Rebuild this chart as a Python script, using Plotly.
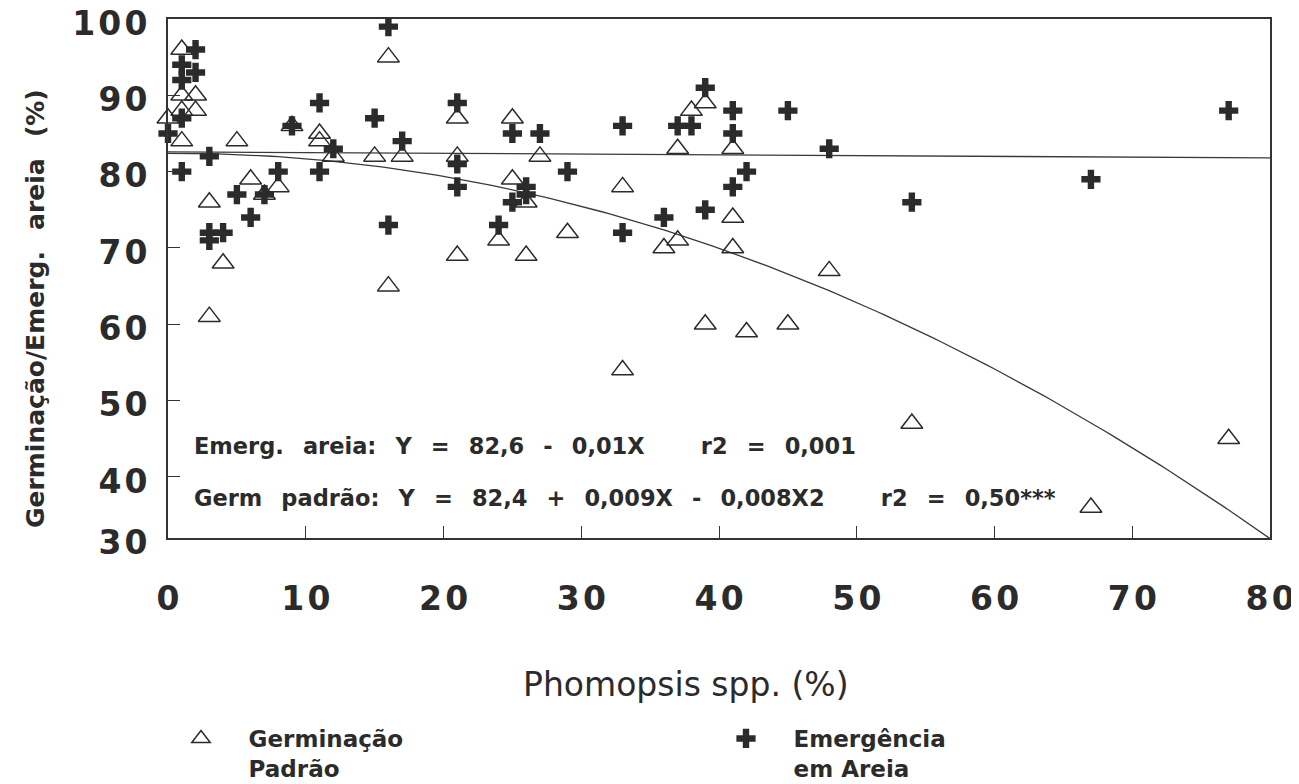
import numpy as np
import plotly.graph_objects as go

# ---------------- data ----------------
germ_x = [0, 1, 1, 1, 1, 2, 2, 3, 3, 4, 5, 6, 7, 8, 9, 11, 11, 12, 15, 16, 16, 17,
          21, 21, 21, 24, 25, 25, 26, 26, 27, 29, 33, 33, 36, 37, 37, 38, 39, 39,
          41, 41, 41, 42, 45, 48, 54, 67, 77]
germ_y = [87, 96, 90, 88, 84, 90, 88, 76, 61, 68, 84, 79, 77, 78, 86, 85, 84, 82, 82, 95, 65, 82,
          87, 82, 69, 71, 87, 79, 76, 69, 82, 72, 78, 54, 70, 71, 83, 88, 89, 60,
          83, 74, 70, 59, 60, 67, 47, 36, 45]

emerg_x = [0, 1, 1, 1, 1, 2, 2, 3, 3, 3, 4, 5, 6, 7, 8, 9, 11, 11, 12, 15, 16, 16, 17,
           21, 21, 21, 24, 25, 25, 26, 26, 27, 29, 33, 33, 36, 37, 38, 39, 39,
           41, 41, 41, 42, 45, 48, 54, 67, 77]
emerg_y = [85, 94, 92, 87, 80, 96, 93, 82, 72, 71, 72, 77, 74, 77, 80, 86, 89, 80, 83, 87, 99, 73, 84,
           89, 81, 78, 73, 85, 76, 78, 77, 85, 80, 86, 72, 74, 86, 86, 91, 75,
           88, 85, 78, 80, 88, 83, 76, 79, 88]

# regression equations printed on the chart
emerg_a, emerg_b = 82.6, -0.01
germ_a, germ_b, germ_c = 82.4, 0.009, -0.008

x_ticks = [0, 10, 20, 30, 40, 50, 60, 70, 80]
x_tick_text = ["0", "10", "20", "30", "40", "50", "60", "70", "80"]
y_ticks = [32, 40, 50, 60, 70, 80, 90, 100]
y_tick_text = ["30", "40", "50", "60", "70", "80", "90", "100"]

legend_germ = "Germinação<br>Padrão"
legend_emerg = "Emergência<br>em Areia"
x_title = "Phomopsis spp. (%)"
y_title = "Germinação/Emerg. areia (%)"

# ---------------- layout helpers (screen pixels) ----------------
O = 8                      # page body margin offset
W, H = 1299 - O, 784 - O   # figure size so it ends at the window edge
L, R, T, B = 168, 1270, 19, 538   # plot area in screen pixels
INK = "#2b2b2b"


def px_x(p):
    return (p - L) / (R - L)


def px_y(p):
    return (B - p) / (B - T)


def spaced(s):
    return "\u200a".join(s)


G = "\u2002 "          # wide word gap
BIG = "\u2003\u2003\u2002"  # large gap before r2

eq1 = G.join(["Emerg.", "areia:", "Y", "=", "82,6", "-", "0,01X"]) + BIG + G.join(["r2", "=", "0,001"])
eq2 = G.join(["Germ", "padrão:", "Y", "=", "82,4", "+", "0,009X", "-", "0,008X2"]) + BIG + G.join(["r2", "=", "0,50***"])

lx = np.linspace(0, 80, 161)
emerg_fit = emerg_a + emerg_b * lx
germ_fit = germ_a + germ_b * lx + germ_c * lx ** 2

pre = "\u2003\u2009"
fig = go.Figure()
fig.add_trace(go.Scatter(x=lx, y=emerg_fit, mode="lines", line=dict(color="#3a3a3a", width=1.3),
                         showlegend=False, hoverinfo="skip"))
fig.add_trace(go.Scatter(x=lx, y=germ_fit, mode="lines", line=dict(color="#3a3a3a", width=1.3),
                         showlegend=False, hoverinfo="skip"))
fig.add_trace(go.Scatter(x=germ_x, y=germ_y, mode="markers", name=pre + legend_germ.replace("<br>", "<br>" + pre),
                         marker=dict(symbol="triangle-up-open", size=19, color=INK, line=dict(width=1.5, color=INK)),
                         cliponaxis=False))
fig.add_trace(go.Scatter(x=emerg_x, y=emerg_y, mode="markers", name=pre + legend_emerg.replace("<br>", "<br>" + pre),
                         marker=dict(symbol="cross", size=16, color=INK, line=dict(width=0)),
                         cliponaxis=False))

axis_common = dict(showgrid=False, zeroline=False, showline=True, linecolor="#333333", linewidth=1.6,
                   mirror=True, ticks="inside", ticklen=12, tickwidth=1.4, tickcolor="#333333",
                   ticklabeloverflow="allow",
                   tickfont=dict(family="DejaVu Sans", size=33, color=INK, weight="bold"))

fig.update_xaxes(range=[0, 80], tickvals=x_ticks, ticktext=[spaced(t) for t in x_tick_text],
                 ticklabelstandoff=31, **axis_common)
fig.update_yaxes(range=[32, 100], tickvals=y_ticks, ticktext=[spaced(t) for t in y_tick_text],
                 ticklabelstandoff=12, ticklabelshift=4, **axis_common)

annos = [
    dict(text=y_title.replace(" ", "\u2002 "), x=px_x(35), y=px_y(309), textangle=-90,
         font=dict(family="DejaVu Sans", size=25, color=INK, weight="bold")),
    dict(text=x_title, x=px_x(686), y=px_y(684),
         font=dict(family="DejaVu Sans", size=33, color=INK)),
    dict(text=eq1, x=px_x(192), y=px_y(446), xanchor="left",
         font=dict(family="DejaVu Sans", size=22.5, color=INK, weight="bold")),
    dict(text=eq2, x=px_x(192), y=px_y(498), xanchor="left",
         font=dict(family="DejaVu Sans", size=22.5, color=INK, weight="bold")),
]
for a in annos:
    a.setdefault("xanchor", "center")
    a.setdefault("yanchor", "middle")
    a.update(xref="paper", yref="paper", showarrow=False)

fig.update_layout(
    width=W, height=H,
    margin=dict(l=L - O, r=W - (R - O), t=T - O, b=H - (B - O), autoexpand=False),
    paper_bgcolor="white", plot_bgcolor="white",
    annotations=annos,
    showlegend=True,
    legend=dict(orientation="h", x=px_x(181), y=px_y(717), xanchor="left", yanchor="top",
                entrywidth=500, valign="top", bgcolor="rgba(0,0,0,0)",
                font=dict(family="DejaVu Sans", size=23, color=INK, weight="bold")),
)

fig.write_html("out.html")
